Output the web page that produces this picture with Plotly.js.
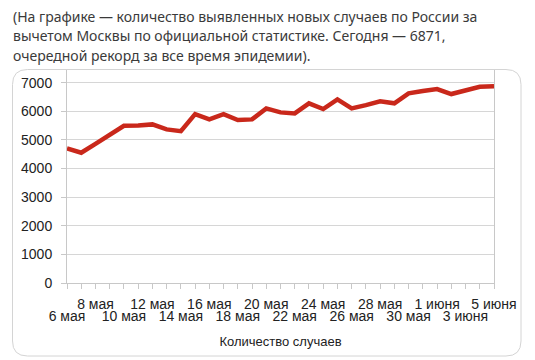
<!DOCTYPE html>
<html><head><meta charset="utf-8">
<script src="https://cdn.plot.ly/plotly-3.0.1.min.js"></script>
<style>html,body{margin:0;padding:0;background:#fff}#chart{width:535px;height:360px}</style>
</head><body><div id="chart"></div>
<script>
const dates = ["6 мая","7 мая","8 мая","9 мая","10 мая","11 мая","12 мая","13 мая","14 мая","15 мая",
  "16 мая","17 мая","18 мая","19 мая","20 мая","21 мая","22 мая","23 мая","24 мая","25 мая",
  "26 мая","27 мая","28 мая","29 мая","30 мая","31 мая","1 июня","2 июня","3 июня","4 июня","5 июня"];
const cases = [4700,4550,4860,5180,5490,5505,5540,5365,5305,5900,
  5715,5900,5690,5715,6100,5960,5925,6275,6075,6415,
  6100,6215,6350,6275,6625,6705,6775,6600,6715,6855,6871];
const upperLabels = ["8 мая","12 мая","16 мая","20 мая","24 мая","28 мая","1 июня","5 июня"];
const lowerLabels = ["6 мая","10 мая","14 мая","18 мая","22 мая","26 мая","30 мая","3 июня"];
const yTicks = [0,1000,2000,3000,4000,5000,6000,7000];
const titleLines = ["(На графике — количество выявленных новых случаев по России за",
  "вычетом Москвы по официальной статистике. Сегодня — 6871,",
  "очередной рекорд за все время эпидемии)."];
const seriesName = "Количество случаев";

const ML=67, MR=41, MT=70, MB=77, W=535, H=360;
const PW=W-ML-MR, PH=H-MT-MB;
const px = x => (x-ML)/PW;
const py = y => (H-MB-y)/PH;
const Lb=12.5, Rb=521, Tb=69.5, Bb=356, r=15;
const P = (x,y) => px(x)+','+py(y);
const boxPath = 'M'+P(Lb+r,Tb)+' L'+P(Rb-r,Tb)+' Q'+P(Rb,Tb)+' '+P(Rb,Tb+r)+
  ' L'+P(Rb,Bb-r)+' Q'+P(Rb,Bb)+' '+P(Rb-r,Bb)+' L'+P(Lb+r,Bb)+' Q'+P(Lb,Bb)+' '+P(Lb,Bb-r)+
  ' L'+P(Lb,Tb+r)+' Q'+P(Lb,Tb)+' '+P(Lb+r,Tb)+' Z';

const axisFont = {family:'Liberation Sans, Arial, sans-serif', size:14, color:'#222'};
const lineCol = '#c8c8c8';

const traces = [
  {x:dates, y:cases, type:'scatter', mode:'lines', name:seriesName,
   line:{color:'#c9281b', width:4.5}, hoverinfo:'x+y'},
  {x:dates, y:cases, type:'scatter', mode:'lines', xaxis:'x2', opacity:0,
   line:{width:0}, hoverinfo:'skip', showlegend:false}
];

const titleAnn = titleLines.map((t,i) => ({xref:'paper', yref:'paper', x:px(11), y:py(5+i*19.5),
  xanchor:'left', yanchor:'top', showarrow:false, align:'left', text:t,
  font:{family:'Noto Sans, Open Sans, sans-serif', size:14, color:'#3a3a3a'}}));

const layout = {
  width:W, height:H, margin:{l:ML,r:MR,t:MT,b:MB},
  paper_bgcolor:'#fff', plot_bgcolor:'#fff', showlegend:false,
  xaxis:{type:'category', categoryorder:'array', categoryarray:dates, range:[0,dates.length-1],
    showgrid:false, zeroline:false, showline:true, linecolor:lineCol, linewidth:1,
    ticks:'outside', ticklen:5, tickcolor:lineCol, tickvals:dates,
    ticktext:dates.map(d => upperLabels.includes(d) ? d : ''),
    tickangle:0, tickfont:axisFont, ticklabelstandoff:3,
    title:{text:seriesName, font:{family:'Liberation Sans, Arial, sans-serif', size:13, color:'#222'}, standoff:26}},
  xaxis2:{type:'category', categoryorder:'array', categoryarray:dates, range:[0,dates.length-1],
    overlaying:'x', side:'bottom', showgrid:false, zeroline:false, showline:false,
    ticks:'', tickvals:lowerLabels, ticktext:lowerLabels, tickangle:0, tickfont:axisFont,
    ticklabelstandoff:23},
  yaxis:{range:[0,7440], tickvals:yTicks, ticktext:yTicks.map(String), showgrid:true, gridcolor:'#d6d6d6',
    zeroline:false, showline:true, mirror:true, linecolor:lineCol, ticks:'outside', ticklen:5,
    tickcolor:lineCol, tickfont:axisFont, ticklabelstandoff:6},
  shapes:[{type:'path', xref:'paper', yref:'paper', path:boxPath, line:{color:'#d4d4d4', width:1}, layer:'above'}],
  annotations:titleAnn
};
Plotly.newPlot('chart', traces, layout, {displayModeBar:false, staticPlot:true});
</script></body></html>
